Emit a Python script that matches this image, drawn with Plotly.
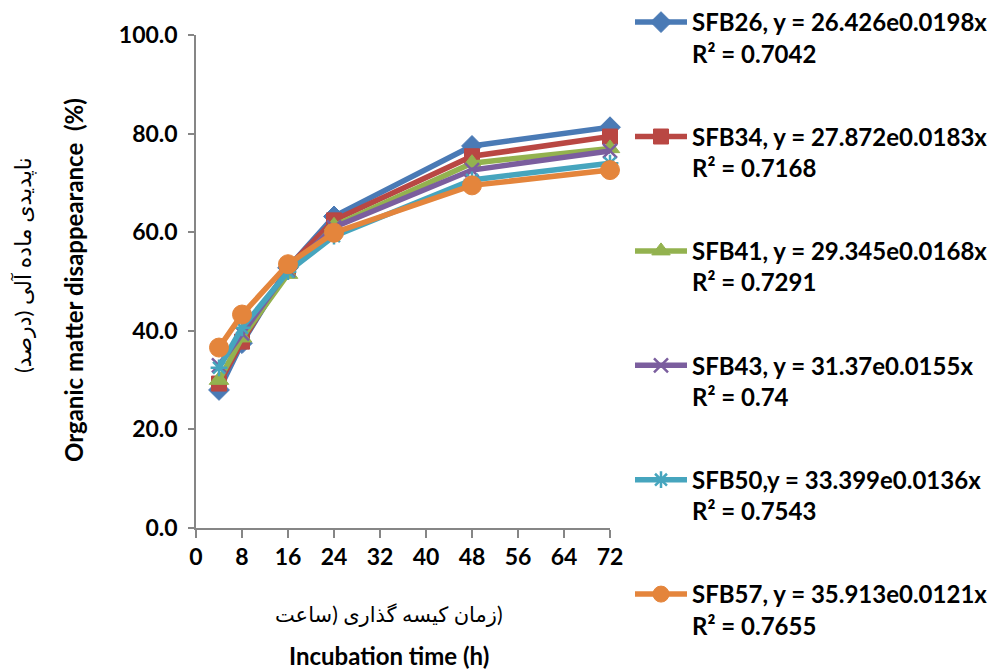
import plotly.graph_objects as go

# Incubation times (h)
hours = [4, 8, 16, 24, 48, 72]

# Organic matter disappearance (%) per cultivar
sfb26 = [28.0, 37.5, 52.8, 63.2, 77.5, 81.3]
sfb34 = [29.3, 37.8, 52.9, 62.4, 75.4, 79.4]
sfb41 = [30.0, 38.6, 51.5, 61.3, 74.0, 77.0]
sfb43 = [33.0, 39.5, 52.3, 61.0, 72.6, 76.5]
sfb50 = [32.5, 40.6, 52.0, 59.2, 70.6, 74.0]
sfb57 = [36.6, 43.3, 53.5, 59.9, 69.5, 72.6]

series_names = [
    "SFB26, y = 26.426e0.0198x<br>R² = 0.7042",
    "SFB34, y = 27.872e0.0183x<br>R² = 0.7168",
    "SFB41, y = 29.345e0.0168x<br>R² = 0.7291",
    "SFB43, y = 31.37e0.0155x<br>R² = 0.74",
    "SFB50,y = 33.399e0.0136x<br>R² = 0.7543",
    "SFB57, y = 35.913e0.0121x<br>R² = 0.7655",
]
series_values = [sfb26, sfb34, sfb41, sfb43, sfb50, sfb57]

x_ticks = [0, 8, 16, 24, 32, 40, 48, 56, 64, 72]
y_ticks = [0, 20, 40, 60, 80, 100]

colors = ["#4A7AB5", "#B94743", "#93B24F", "#7B5E9E", "#46A5BE", "#E4853C"]
symbols = ["diamond", "square", "triangle-up", "x-thin", "asterisk", "circle"]
sizes = [16, 15, 17, 14, 14, 19]

W, H = 989, 672
L, R, T, B = 196, 610, 35, 528  # plot area in pixels

FONT = "Lato, 'DejaVu Sans', sans-serif"
AXIS_GRAY = "#868686"
LRM = "\u200e"

# Persian axis titles
y_title_fa = "ناپدیدی ماده آلی (درصد)"
# words kept in this display order, separated by left-to-right marks
x_title_fa = LRM.join(["ساعت", ") گذاری", " کیسه", " زمان", ")"])

fig = go.Figure()
for i, (name, vals) in enumerate(zip(series_names, series_values)):
    open_sym = symbols[i] in ("x-thin", "asterisk")
    fig.add_trace(go.Scatter(
        x=hours, y=vals, name="<b>" + name + "</b>",
        mode="lines+markers",
        legendgroup=f"g{i}",
        line=dict(color=colors[i], width=5.5),
        marker=dict(
            symbol=symbols[i], size=sizes[i], color=colors[i],
            line=dict(color=colors[i], width=2.5 if open_sym else 1),
        ),
        cliponaxis=False,
    ))


def px_x(px):
    return (px - L) / (R - L)


def px_y(py):
    return (B - py) / (B - T)


annotations = [
    dict(text=y_title_fa, x=px_x(23), y=px_y(265),
         textangle=-90, font=dict(size=22, family=FONT, color="black")),
    dict(text="<b>Organic matter disappearance  (%)</b>", x=px_x(73), y=px_y(280),
         textangle=-90, font=dict(size=24, family=FONT, color="black")),
    dict(text=x_title_fa, x=px_x(389), y=px_y(614),
         font=dict(size=21, family=FONT, color="black")),
    dict(text="<b>Incubation time (h)</b>", x=px_x(389), y=px_y(655),
         font=dict(size=24, family=FONT, color="black")),
]
for a in annotations:
    a.update(xref="paper", yref="paper", showarrow=False,
             xanchor="center", yanchor="middle")

fig.update_layout(
    width=W, height=H,
    margin=dict(l=L, r=W - R, t=T, b=H - B, pad=0, autoexpand=False),
    paper_bgcolor="white", plot_bgcolor="white",
    font=dict(family=FONT, color="black"),
    showlegend=True,
    legend=dict(
        x=px_x(630), y=px_y(0), xanchor="left", yanchor="top",
        traceorder="grouped", tracegroupgap=49,
        itemwidth=52, valign="top", maxheight=1.0 * H,
        font=dict(size=24, family=FONT, color="black"),
        bgcolor="rgba(0,0,0,0)",
    ),
    annotations=annotations,
    xaxis=dict(
        range=[0, 72], tickvals=x_ticks, ticktext=[f"<b>{v}</b>" for v in x_ticks],
        showline=True, linecolor=AXIS_GRAY, linewidth=1.5,
        ticks="outside", ticklen=8, tickcolor=AXIS_GRAY, tickwidth=1.5,
        showgrid=False, zeroline=False,
        tickfont=dict(size=23, family=FONT, color="black"),
    ),
    yaxis=dict(
        range=[0, 100], tickvals=y_ticks, ticktext=[f"<b>{v:.1f}</b>" for v in y_ticks],
        showline=True, linecolor=AXIS_GRAY, linewidth=1.5,
        ticks="outside", ticklen=6, tickcolor=AXIS_GRAY, tickwidth=1.5,
        ticklabelstandoff=6,
        showgrid=False, zeroline=False,
        tickfont=dict(size=23, family=FONT, color="black"),
    ),
)

fig.write_html("out.html")
